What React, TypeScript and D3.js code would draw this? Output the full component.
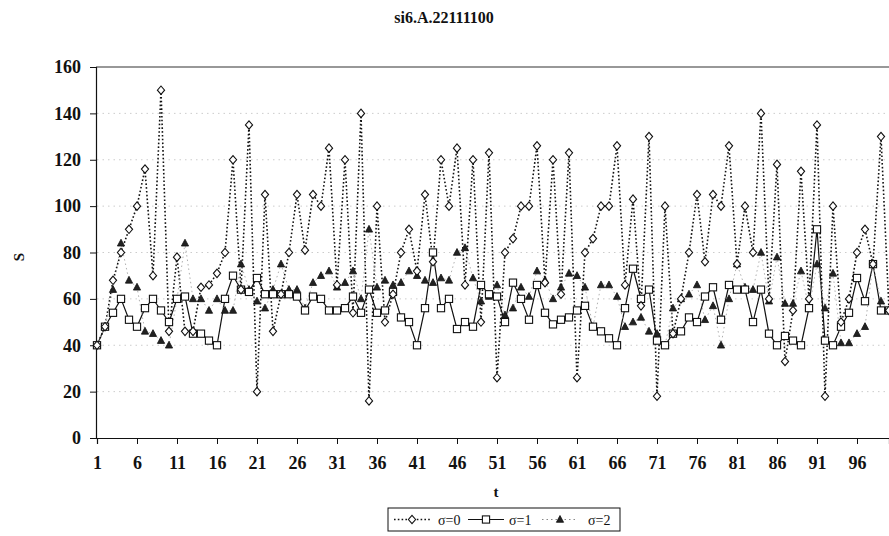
import { useEffect, useRef } from "react";
import * as d3 from "d3";

const WIDTH = 889;
const HEIGHT = 536;
const PLOT = { left: 97, right: 889, top: 67, bottom: 438 };
const FONT = "'Liberation Serif', 'Times New Roman', serif";

const TITLE = "si6.A.22111100";
const X_TICKS = [1, 6, 11, 16, 21, 26, 31, 36, 41, 46, 51, 56, 61, 66, 71, 76, 81, 86, 91, 96];
const Y_TICKS = [0, 20, 40, 60, 80, 100, 120, 140, 160];
const GRID_LEVELS = [20, 40, 60, 80, 100, 120, 140];

// σ=0, t = 1..100
const SIGMA0 = [
  40, 48, 68, 80, 90, 100, 116, 70, 150, 46,
  78, 46, 46, 65, 66, 71, 80, 120, 64, 135,
  20, 105, 46, 62, 80, 105, 81, 105, 100, 125,
  66, 120, 54, 140, 16, 100, 50, 62, 80, 90,
  72, 105, 76, 120, 100, 125, 66, 120, 50, 123,
  26, 80, 86, 100, 100, 126, 67, 120, 62, 123,
  26, 80, 86, 100, 100, 126, 66, 103, 57, 130,
  18, 100, 45, 60, 80, 105, 76, 105, 100, 126,
  75, 100, 80, 140, 60, 118, 33, 55, 115, 60,
  135, 18, 100, 50, 60, 80, 90, 75, 130, 55,
];

// σ=1
const SIGMA1 = [
  40, 48, 54, 60, 51, 48, 56, 60, 55, 50,
  60, 61, 45, 45, 42, 40, 60, 70, 64, 63,
  69, 62, 62, 62, 62, 61, 55, 61, 60, 55,
  55, 56, 61, 54, 64, 54, 55, 63, 52, 50,
  40, 56, 80, 56, 60, 47, 50, 48, 66, 62,
  61, 50, 67, 60, 51, 66, 54, 49, 51, 52,
  55, 57, 48, 46, 43, 40, 56, 73, 60, 64,
  42, 40, 45, 46, 52, 50, 61, 65, 51, 66,
  64, 64, 50, 64, 45, 40, 44, 42, 40, 56,
  90, 42, 40, 48, 54, 69, 59, 75, 55, 55,
];

// σ=2
const SIGMA2 = [
  40, 48, 64, 84, 68, 65, 46, 45, 42, 40,
  60, 84, 60, 60, 55, 60, 55, 55, 75, 64,
  59, 56, 64, 75, 64, 64, 56, 67, 70, 72,
  65, 67, 72, 60, 90, 65, 68, 66, 67, 72,
  70, 68, 67, 69, 68, 80, 82, 69, 59, 61,
  66, 53, 56, 65, 61, 72, 68, 60, 65, 71,
  70, 65, 48, 66, 66, 61, 48, 50, 52, 46,
  45, 40, 56, 60, 62, 66, 51, 57, 40, 60,
  75, 65, 64, 80, 59, 78, 58, 58, 72, 56,
  75, 56, 71, 41, 41, 45, 48, 75, 59, 55,
];

const SERIES = [
  { name: "σ=0", values: SIGMA0, stroke: "#111", width: 1.6, dash: "1.6,2.2", marker: "diamond" },
  { name: "σ=1", values: SIGMA1, stroke: "#111", width: 1.2, dash: null, marker: "square" },
  { name: "σ=2", values: SIGMA2, stroke: "#b0b0b0", width: 1, dash: "1.5,3", marker: "triangle" },
];

function drawMarker(g, kind, x, y) {
  if (kind === "diamond") {
    g.append("path")
      .attr("d", `M${x},${y - 4.2}L${x + 3.6},${y}L${x},${y + 4.2}L${x - 3.6},${y}Z`)
      .attr("fill", "#fff")
      .attr("stroke", "#111")
      .attr("stroke-width", 1.1);
  } else if (kind === "square") {
    g.append("rect")
      .attr("x", x - 3.6)
      .attr("y", y - 3.6)
      .attr("width", 7.2)
      .attr("height", 7.2)
      .attr("fill", "#fff")
      .attr("stroke", "#111")
      .attr("stroke-width", 1.1);
  } else {
    g.append("path")
      .attr("d", `M${x},${y - 4}L${x + 3.6},${y + 2.8}L${x - 3.6},${y + 2.8}Z`)
      .attr("fill", "#222")
      .attr("stroke", "#111")
      .attr("stroke-width", 0.8);
  }
}

export default function App() {
  const svgRef = useRef(null);

  useEffect(() => {
    const svg = d3.select(svgRef.current);
    svg.selectAll("*").remove();

    const n = SIGMA0.length;
    const x = d3.scaleLinear().domain([1, n]).range([PLOT.left, PLOT.right]);
    const y = d3.scaleLinear().domain([0, 160]).range([PLOT.bottom, PLOT.top]);

    svg.append("rect").attr("width", WIDTH).attr("height", HEIGHT).attr("fill", "#fff");

    // title
    svg.append("text")
      .attr("x", 444)
      .attr("y", 23)
      .attr("text-anchor", "middle")
      .attr("font-family", FONT)
      .attr("font-weight", 700)
      .attr("font-size", 16)
      .attr("fill", "#111")
      .text(TITLE);

    // faint dotted gridlines
    svg.append("g")
      .selectAll("line")
      .data(GRID_LEVELS)
      .join("line")
      .attr("x1", PLOT.left)
      .attr("x2", PLOT.right)
      .attr("y1", (d) => y(d))
      .attr("y2", (d) => y(d))
      .attr("stroke", "#cccccc")
      .attr("stroke-width", 1)
      .attr("stroke-dasharray", "1.5,4");

    // top frame line
    svg.append("line")
      .attr("x1", PLOT.left - 1)
      .attr("x2", WIDTH)
      .attr("y1", y(160))
      .attr("y2", y(160))
      .attr("stroke", "#333")
      .attr("stroke-width", 1.2);

    // y axis
    const yAxis = svg.append("g").attr("transform", `translate(${PLOT.left - 1},0)`)
      .call(d3.axisLeft(y).tickValues(Y_TICKS).tickSize(6).tickPadding(9));
    yAxis.select(".domain").attr("stroke", "#111").attr("stroke-width", 1.2);
    yAxis.selectAll("line").attr("stroke", "#111");
    yAxis.selectAll("text")
      .attr("font-family", FONT)
      .attr("font-weight", 700)
      .attr("font-size", 18)
      .attr("fill", "#111");

    // x axis
    const xAxis = svg.append("g").attr("transform", `translate(0,${PLOT.bottom})`)
      .call(d3.axisBottom(x).tickValues(X_TICKS).tickSize(6).tickPadding(12).tickFormat(d3.format("d")));
    xAxis.select(".domain").attr("stroke", "#111").attr("stroke-width", 1.2);
    xAxis.selectAll("line").attr("stroke", "#111");
    xAxis.selectAll("text")
      .attr("font-family", FONT)
      .attr("font-weight", 700)
      .attr("font-size", 18)
      .attr("fill", "#111");

    // axis titles
    svg.append("text")
      .attr("x", 496)
      .attr("y", 497)
      .attr("text-anchor", "middle")
      .attr("font-family", FONT)
      .attr("font-weight", 700)
      .attr("font-size", 15)
      .attr("fill", "#111")
      .text("t");
    svg.append("text")
      .attr("transform", "translate(24,257) rotate(-90)")
      .attr("text-anchor", "middle")
      .attr("font-family", FONT)
      .attr("font-weight", 700)
      .attr("font-size", 15)
      .attr("fill", "#111")
      .text("S");

    // series
    const plotG = svg.append("g");
    SERIES.forEach((s) => {
      const line = d3.line().x((d, i) => x(i + 1)).y((d) => y(d));
      plotG.append("path")
        .datum(s.values)
        .attr("d", line)
        .attr("fill", "none")
        .attr("stroke", s.stroke)
        .attr("stroke-width", s.width)
        .attr("stroke-dasharray", s.dash);
    });
    SERIES.slice().reverse().forEach((s) => {
      const mg = plotG.append("g");
      s.values.forEach((v, i) => drawMarker(mg, s.marker, x(i + 1), y(v)));
    });

    // legend
    const lg = svg.append("g").attr("transform", "translate(388,508)");
    lg.append("rect")
      .attr("width", 232)
      .attr("height", 23)
      .attr("fill", "#fff")
      .attr("stroke", "#111")
      .attr("stroke-width", 1);
    const lineX = [6, 80, 154];
    const textX = [50, 121, 200];
    SERIES.forEach((s, i) => {
      const ox = lineX[i];
      lg.append("line")
        .attr("x1", ox)
        .attr("x2", ox + 36)
        .attr("y1", 11.5)
        .attr("y2", 11.5)
        .attr("stroke", s.stroke === "#b0b0b0" ? "#888" : s.stroke)
        .attr("stroke-width", s.width)
        .attr("stroke-dasharray", s.dash);
      drawMarker(lg, s.marker, ox + 18, 11.5);
      lg.append("text")
        .attr("x", textX[i])
        .attr("y", 16.5)
        .attr("font-family", FONT)
        .attr("font-size", 14)
        .attr("fill", "#111")
        .text(s.name);
    });
  }, []);

  return (
    <svg
      ref={svgRef}
      width={WIDTH}
      height={HEIGHT}
      style={{ position: "absolute", left: 0, top: 0 }}
    />
  );
}
